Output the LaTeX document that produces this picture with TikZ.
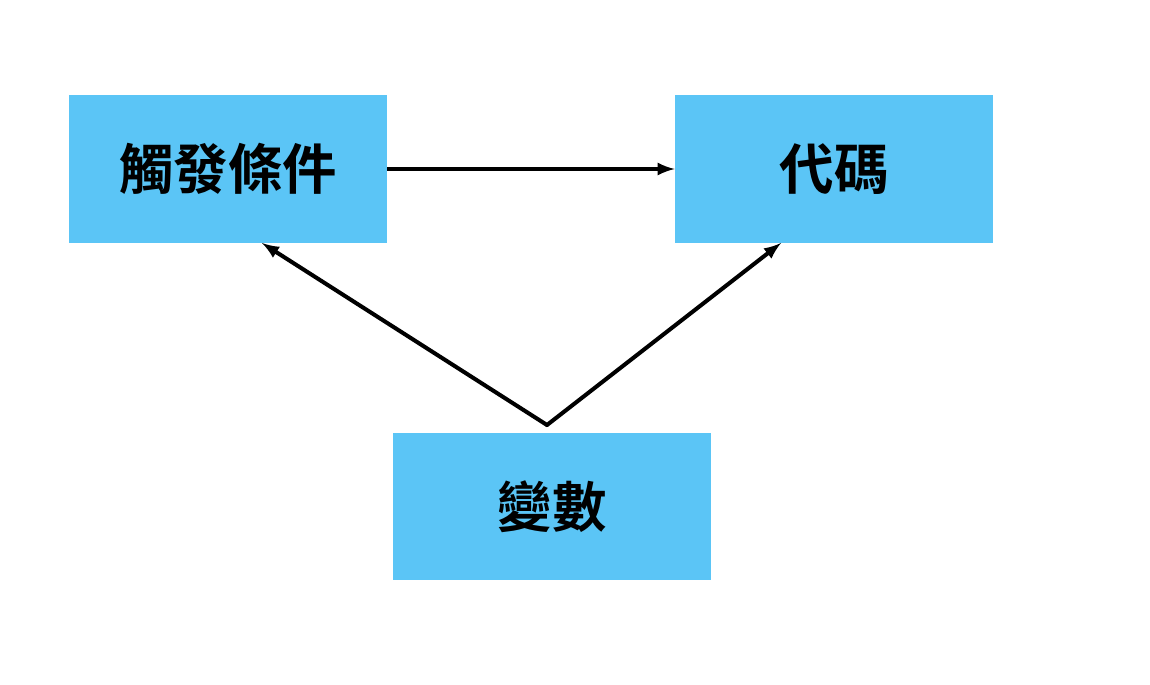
\documentclass[tikz,border=0pt]{standalone}
\usepackage{fontspec}
\newfontfamily\cjk{Noto Sans CJK TC Bold}
\usetikzlibrary{positioning}
\definecolor{boxblue}{HTML}{5BC5F6}
\tikzset{bx/.style = {fill=boxblue, minimum width=6.36cm, minimum height=2.96cm, inner sep=0pt,
           font=\cjk\fontsize{31}{31}\selectfont},
         ar/.style = {-latex, line width=2.3pt}}
\begin{document}
\begin{tikzpicture}[x=0.02cm, y=-0.02cm]
    \useasboundingbox (0,0) rectangle (1150,684);
    \node[bx] (trig) at (228,169) {觸發條件};
    \node[bx] (code) at (834,169) {代碼};
    \node[bx] (var)  at (552,506.5) {變數};
    \coordinate (fork) at (547,425);
    \draw[ar] (trig) -- (code);
    \draw[ar, line cap=round] (fork) -- (262,243);
    \draw[ar, line cap=round] (fork) -- (781,243);
\end{tikzpicture}
\end{document}
